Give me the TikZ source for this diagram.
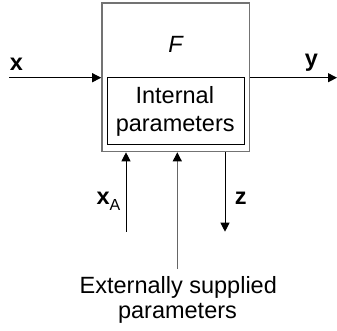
\documentclass[tikz,border=0pt]{standalone}
\usepackage{fontspec}
\setmainfont{Liberation Sans}
\usetikzlibrary{arrows.meta}
\begin{document}
\begin{tikzpicture}[x=1pt,y=-1pt,
  lbl/.style={font=\fontsize{23.5}{28}\selectfont, inner sep=0pt, anchor=base},
  arr/.style={line width=1pt, -{Triangle[length=9pt,width=9pt,color=black,fill=black]}}]
\useasboundingbox (0,0) rectangle (337,330);
\node[draw=black!55, line width=1.5pt, minimum width=147.5pt, minimum height=148.5pt, inner sep=0pt] (F) at (175.7,77.3) {};
\node[draw=black, line width=1pt, minimum width=136.7pt, minimum height=66.7pt, inner sep=0pt] (P) at (175.7,110.7) {};
\node[lbl] (P1) at (174.8,103.3) {Internal};
\node[lbl] (P2) at (175.2,131) {parameters};
\node[lbl] (Fl) at (175.5,52.3) {\itshape F};
\coordinate (xs) at (9,77.7);
\draw[arr] (xs) -- (F.west |- xs);
\node[lbl] (xl) at (16.3,70) {\bfseries x};
\coordinate (ye) at (337,77.7);
\draw[arr] (F.east |- ye) -- (ye);
\node[lbl] (yl) at (311.5,66) {\bfseries y};
\coordinate (as) at (126,231.7);
\draw[arr] (as) -- (F.south -| as);
\node[lbl, anchor=base east] (al) at (120.5,204) {\bfseries x\raisebox{-6.7pt}{\fontsize{16}{18}\selectfont\mdseries A}};
\coordinate (es) at (177.3,269);
\draw[arr, draw=black!60] (es) -- (F.south -| es);
\coordinate (ze) at (225,231.7);
\draw[arr] (F.south -| ze) -- (ze);
\node[lbl] (zl) at (240.8,204) {\bfseries z};
\node[lbl] (ext1) at (178.3,293.3) {Externally supplied};
\node[lbl] (ext2) at (177.5,318.3) {parameters};
\end{tikzpicture}
\end{document}
